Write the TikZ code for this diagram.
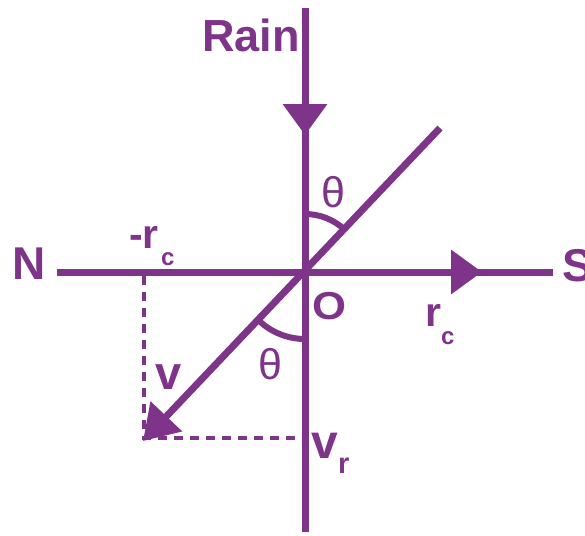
\documentclass[tikz,border=0pt]{standalone}
\usepackage{fontspec}
\setmainfont{Liberation Sans}
\usetikzlibrary{arrows.meta}
\definecolor{vio}{RGB}{126,52,137}
\begin{document}
\begin{tikzpicture}[x=1pt,y=-1pt,
  axis/.style={draw=vio,line width=7pt},
  dsh/.style={draw=vio,line width=3.8pt,dash pattern=on 9pt off 7pt},
  angarc/.style={draw=vio,line width=6pt},
  lbl/.style={text=vio,inner sep=0pt,anchor=base west},
  tip/.style={-{Triangle[length=31pt,width=43pt]}}]
\useasboundingbox (0,0) rectangle (585,535);
\coordinate (O) at (305,272);
\coordinate (Vtop) at (305,8);
\coordinate (Vbot) at (305,532);
\coordinate (Vtip) at (305,135);
\coordinate (Hl) at (57,272);
\coordinate (Hr) at (553,272);
\coordinate (Htip) at (482,272);
\coordinate (Dtop) at (440,128);
\coordinate (Dtip) at (143,441);
\coordinate (Px) at (144,276);
\coordinate (Pc) at (144,438);
\coordinate (Py) at (302,438);
% axes
\draw[axis] (Vtop) -- (Vbot);
\draw[axis,tip] (Vtop) -- (Vtip);
\draw[axis] (Hl) -- (Hr);
\draw[axis,tip] (Hl) -- (Htip);
\draw[axis,-{Triangle[length=34pt,width=42pt]}] (Dtop) -- (Dtip);
% dashed projections
\draw[dsh] (Px) -- (Pc) -- (Py);
% angle arcs
\draw[angarc] ([shift={(90:58pt)}]O) arc[start angle=90,end angle=46.6,radius=58pt];
\draw[angarc] ([shift={(226.6:67pt)}]O) arc[start angle=226.6,end angle=270,radius=67pt];
% labels
\node[lbl,font=\fontsize{45}{45}\selectfont\bfseries] (rain) at (202,52) {Rain};
\node[lbl,font=\fontsize{46}{46}\selectfont\bfseries] (n) at (12,279) {N};
\node[lbl,font=\fontsize{46}{46}\selectfont\bfseries] (s) at (562,281) {S};
\node[lbl,font=\fontsize{41}{41}\selectfont\bfseries] (mr) at (129,248) {-r};
\node[lbl,font=\fontsize{24}{24}\selectfont\bfseries] (mrc) at (161,265) {c};
\node[lbl,font=\fontsize{41}{41}\selectfont\bfseries] (r) at (425,326) {r};
\node[lbl,font=\fontsize{24}{24}\selectfont\bfseries] (rc) at (441,344) {c};
\node[lbl,font=\fontsize{39}{39}\selectfont\bfseries,xscale=1.12] (o) at (312,319) {O};
\node[text=vio,inner sep=0pt,font=\fontsize{43}{43}\selectfont] (th1) at (333,192) {θ};
\node[text=vio,inner sep=0pt,font=\fontsize{43}{43}\selectfont] (th2) at (270,364) {θ};
\node[lbl,font=\fontsize{47}{47}\selectfont\bfseries] (v) at (155,389) {v};
\node[lbl,font=\fontsize{48}{48}\selectfont\bfseries] (vr) at (311,458) {v};
\node[lbl,font=\fontsize{29}{29}\selectfont\bfseries] (vrr) at (338,473) {r};
\end{tikzpicture}
\end{document}
